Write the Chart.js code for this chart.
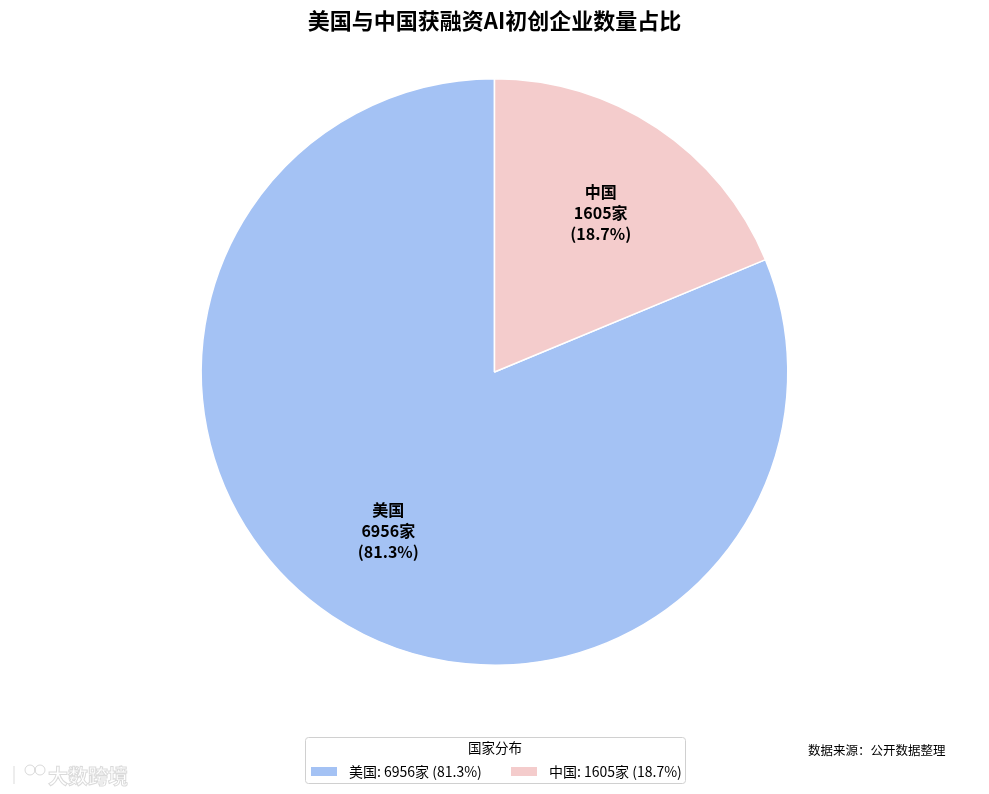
<!DOCTYPE html>
<html>
<head>
<meta charset="utf-8">
<script src="https://cdn.jsdelivr.net/npm/chart.js@4.4.1/dist/chart.umd.min.js"></script>
<style>
  html, body { margin: 0; padding: 0; background: #fff; }
  #wrap { width: 989px; height: 794px; }
</style>
</head>
<body>
<div id="wrap"><canvas id="pieChart" width="989" height="794"></canvas></div>
<script>
// chart data
const countries = ['美国', '中国'];
const counts = [6956, 1605];
const colors = ['#a4c2f4', '#f4cccc'];
const chartTitle = '美国与中国获融资AI初创企业数量占比';
const legendTitle = '国家分布';
const sourceNote = '数据来源：公开数据整理';

const FONT = '"Noto Sans CJK SC", "Noto Sans", sans-serif';
const total = counts.reduce((a, b) => a + b, 0);
const pct = counts.map(v => (v / total * 100).toFixed(1));

// labels inside slices, legend box, source note
const extras = {
    id: 'extras',
    afterDatasetsDraw(chart) {
        const ctx = chart.ctx;
        const meta = chart.getDatasetMeta(0);
        ctx.save();
        ctx.fillStyle = '#000';
        ctx.textAlign = 'center';
        ctx.textBaseline = 'middle';
        ctx.font = 'bold 16px ' + FONT;
        meta.data.forEach((arc, i) => {
            const mid = (arc.startAngle + arc.endAngle) / 2;
            const r = arc.outerRadius * 0.652;
            const x = arc.x + Math.cos(mid) * r;
            const y = arc.y + Math.sin(mid) * r;
            ctx.fillText(countries[i], x, y - 21);
            ctx.fillText(counts[i] + '家', x, y);
            ctx.fillText('(' + pct[i] + '%)', x, y + 21);
        });

        // legend box
        const bx = 305.5, by = 737.5, bw = 380, bh = 46;
        ctx.strokeStyle = '#d0d0d0';
        ctx.lineWidth = 1;
        ctx.beginPath();
        ctx.roundRect(bx, by, bw, bh, 3);
        ctx.stroke();
        ctx.font = '13.5px ' + FONT;
        ctx.fillText(legendTitle, 495, 748);
        ctx.font = '14px ' + FONT;
        ctx.textAlign = 'left';
        const itemX = [311, 511];
        countries.forEach((c, i) => {
            ctx.fillStyle = colors[i];
            ctx.fillRect(itemX[i], 767, 26, 9);
            ctx.fillStyle = '#000';
            ctx.fillText(c + ': ' + counts[i] + '家 (' + pct[i] + '%)', itemX[i] + 38, 772);
        });

        // source note
        ctx.font = '12.5px ' + FONT;
        ctx.fillText(sourceNote, 808, 750);

        // faint watermark
        ctx.font = 'bold 20px ' + FONT;
        ctx.strokeStyle = 'rgba(150,150,150,0.35)';
        ctx.lineWidth = 1;
        ctx.strokeText('大数跨境', 48, 776);
        ctx.beginPath();
        ctx.arc(30, 770, 5, 0, Math.PI * 2);
        ctx.moveTo(45, 770);
        ctx.arc(40, 770, 5, 0, Math.PI * 2);
        ctx.moveTo(14, 766);
        ctx.lineTo(14, 784);
        ctx.stroke();
        ctx.restore();
    }
};

const ctx = document.getElementById('pieChart').getContext('2d');
const pieChart = new Chart(ctx, {
    type: 'pie',
    data: {
        labels: countries,
        datasets: [{
            data: counts,
            backgroundColor: colors,
            borderColor: '#ffffff',
            borderWidth: 1.5
        }]
    },
    options: {
        responsive: false,
        animation: false,
        events: [],
        // start USA after the China wedge so China sits at 12 o'clock going clockwise
        rotation: counts[1] / total * 360,
        layout: { padding: { top: 0, bottom: 128, left: 0, right: 0 } },
        plugins: {
            legend: { display: false },
            tooltip: { enabled: false },
            title: {
                display: true,
                text: chartTitle,
                color: '#000',
                font: { family: FONT, size: 22, weight: 'bold' },
                padding: { top: 7.5, bottom: 44 }
            }
        }
    },
    plugins: [extras]
});
</script>
</body>
</html>
